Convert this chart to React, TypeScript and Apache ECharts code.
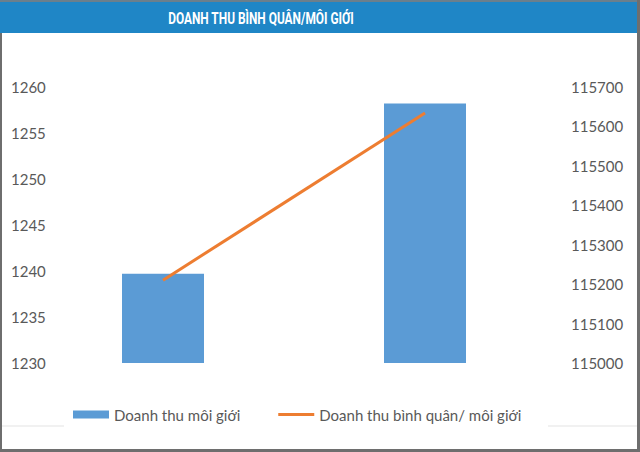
import React, { useEffect, useRef } from "react";
import * as echarts from "echarts";

const categories = ["Kỳ trước", "Kỳ này"];
const brokerRevenue = [1239.7, 1258.2];
const avgRevenuePerBroker = [115210, 115634];
const leftTicks = { min: 1230, max: 1260, interval: 5 };
const rightTicks = { min: 115000, max: 115700, interval: 100 };
const titleText = "DOANH THU BÌNH QUÂN/MÔI GIỚI";
const seriesNames = ["Doanh thu môi giới", "Doanh thu bình quân/ môi giới"];

export default function App() {
  const ref = useRef<HTMLDivElement>(null);
  useEffect(() => {
    document.body.style.margin = "0";
    const chart = echarts.init(ref.current!, null, { renderer: "svg" });
    const labelStyle = { color: "#595959", fontSize: 15, fontFamily: "Lato" };
    const plain = (v: number) => String(v);
    chart.setOption({
      animation: false,
      backgroundColor: "#ffffff",
      graphic: [
        { type: "rect", shape: { x: 0, y: 0, width: 640, height: 2 }, style: { fill: "#6b7f8c" } },
        { type: "rect", shape: { x: 0, y: 2, width: 640, height: 31 }, style: { fill: "#1f86c6" } },
        { type: "rect", shape: { x: 0, y: 33, width: 2, height: 419 }, style: { fill: "#6e6e6e" } },
        { type: "rect", shape: { x: 637, y: 0, width: 3, height: 452 }, style: { fill: "#6e6e6e" } },
        { type: "rect", shape: { x: 0, y: 449, width: 640, height: 3 }, style: { fill: "#6e6e6e" } },
        { type: "line", shape: { x1: 2, y1: 426, x2: 64, y2: 426 }, style: { stroke: "#e3e3e3", lineWidth: 1 } },
        { type: "line", shape: { x1: 548, y1: 426, x2: 637, y2: 426 }, style: { stroke: "#e3e3e3", lineWidth: 1 } },
        {
          type: "text",
          x: 261,
          y: 18,
          scaleX: 0.7,
          style: {
            text: titleText,
            fill: "#ffffff",
            font: "bold 17px Roboto",
            textAlign: "center",
            textVerticalAlign: "middle",
          },
        },
      ],
      legend: {
        left: 68,
        top: 402,
        itemWidth: 36,
        itemHeight: 8,
        itemGap: 38,
        textStyle: labelStyle,
        data: [
          { name: seriesNames[0], icon: "rect" },
          { name: seriesNames[1], icon: "path://M0,0H36V3H0Z" },
        ],
      },
      grid: { left: 32, right: 84, top: 87, bottom: 89 },
      xAxis: {
        type: "category",
        data: categories,
        axisLine: { show: false },
        axisTick: { show: false },
        axisLabel: { show: false },
      },
      yAxis: [
        {
          type: "value",
          min: leftTicks.min,
          max: leftTicks.max,
          interval: leftTicks.interval,
          splitLine: { show: false },
          axisLine: { show: false },
          axisTick: { show: false },
          axisLabel: { ...labelStyle, align: "left", margin: 21, formatter: plain },
        },
        {
          type: "value",
          position: "right",
          min: rightTicks.min,
          max: rightTicks.max,
          interval: rightTicks.interval,
          splitLine: { show: false },
          axisLine: { show: false },
          axisTick: { show: false },
          axisLabel: { ...labelStyle, margin: 15, formatter: plain },
        },
      ],
      series: [
        {
          name: seriesNames[0],
          type: "bar",
          yAxisIndex: 0,
          data: brokerRevenue,
          barWidth: 82,
          itemStyle: { color: "#5b9bd5" },
        },
        {
          name: seriesNames[1],
          type: "line",
          yAxisIndex: 1,
          data: avgRevenuePerBroker,
          symbol: "none",
          lineStyle: { color: "#ed7d31", width: 3 },
          itemStyle: { color: "#ed7d31" },
        },
      ],
    });
    return () => chart.dispose();
  }, []);
  return <div ref={ref} style={{ width: 640, height: 452 }} />;
}
